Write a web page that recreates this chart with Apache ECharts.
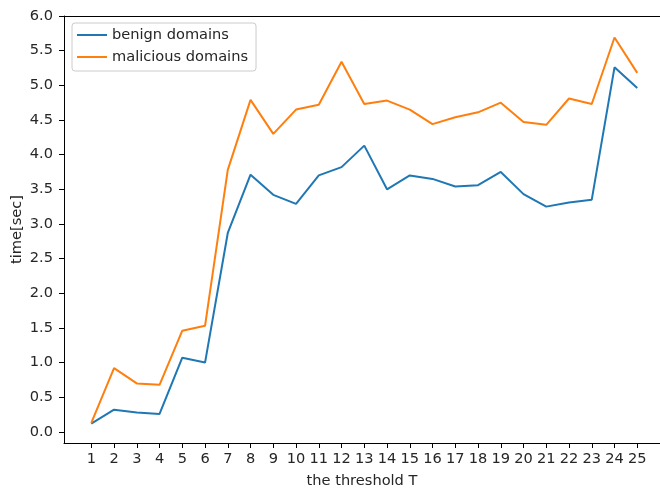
<!DOCTYPE html>
<html>
<head>
<meta charset="utf-8">
<script src="https://cdn.jsdelivr.net/npm/echarts@6/dist/echarts.min.js"></script>
<style>
  html, body { margin: 0; padding: 0; background: #fff; }
  #chart { width: 660px; height: 488px; }
</style>
</head>
<body>
<div id="chart"></div>
<script>
// Threshold values T on the x axis
const thresholds = [1, 2, 3, 4, 5, 6, 7, 8, 9, 10, 11, 12, 13, 14, 15, 16, 17, 18, 19, 20, 21, 22, 23, 24, 25];

// Processing time in seconds per threshold
const benignTimes = [0.12, 0.32, 0.28, 0.26, 1.07, 1.00, 2.87, 3.71, 3.42, 3.29, 3.70, 3.82, 4.13, 3.50, 3.70, 3.65, 3.54, 3.56, 3.75, 3.43, 3.25, 3.31, 3.35, 5.26, 4.96];
const maliciousTimes = [0.13, 0.92, 0.70, 0.68, 1.46, 1.53, 3.78, 4.79, 4.30, 4.65, 4.72, 5.34, 4.73, 4.78, 4.65, 4.44, 4.54, 4.61, 4.75, 4.47, 4.43, 4.81, 4.73, 5.69, 5.18];

// Tick labels on the y axis
const yTicks = [0.0, 0.5, 1.0, 1.5, 2.0, 2.5, 3.0, 3.5, 4.0, 4.5, 5.0, 5.5, 6.0];

const FONT = 'DejaVu Sans';
const FS = 14.6;
const TEXT = '#262626';

const toPairs = (xs, ys) => xs.map((x, i) => [x, ys[i]]);

const chart = echarts.init(document.getElementById('chart'), null, { renderer: 'canvas' });

chart.setOption({
  animation: false,
  backgroundColor: '#ffffff',
  textStyle: { fontFamily: FONT },
  grid: { left: 64, top: 16, right: 0, bottom: 45, containLabel: false, outerBoundsMode: 'none' },
  legend: {
    orient: 'vertical',
    left: 72,
    top: 23,
    backgroundColor: '#ffffff',
    borderColor: '#cccccc',
    borderWidth: 1,
    borderRadius: 3,
    padding: [4, 8, 6, 5],
    itemGap: 6,
    itemWidth: 30,
    itemHeight: 2,
    icon: 'rect',
    itemTextGap: 11,
    textStyle: { fontFamily: FONT, fontSize: FS, color: TEXT, lineHeight: 16 },
    data: ['benign domains', 'malicious domains']
  },
  xAxis: [
    {
      type: 'value',
      min: -0.2,
      max: 26.0,
      name: 'the threshold T',
      nameLocation: 'middle',
      nameGap: 31,
      nameMoveOverlap: false,
      nameTextStyle: { fontFamily: FONT, fontSize: FS, color: TEXT },
      splitLine: { show: false },
      axisLine: { show: true, onZero: false, lineStyle: { color: '#000', width: 1 } },
      axisTick: { show: true, length: 5, lineStyle: { color: '#000' }, customValues: thresholds },
      axisLabel: { fontFamily: FONT, fontSize: FS, color: TEXT, margin: 9, customValues: thresholds }
    },
    {
      // top frame line
      type: 'value',
      position: 'top',
      min: -0.2,
      max: 26.0,
      splitLine: { show: false },
      axisLine: { show: true, onZero: false, lineStyle: { color: '#000', width: 1 } },
      axisTick: { show: false },
      axisLabel: { show: false }
    }
  ],
  yAxis: {
    type: 'value',
    min: -0.16,
    max: 6.0,
    name: 'time[sec]',
    nameLocation: 'middle',
    nameGap: 39,
    nameMoveOverlap: false,
    nameTextStyle: { fontFamily: FONT, fontSize: FS, color: TEXT },
    splitLine: { show: false },
    axisLine: { show: true, onZero: false, lineStyle: { color: '#000', width: 1 } },
    axisTick: { show: true, length: 5, lineStyle: { color: '#000' }, customValues: yTicks },
    axisLabel: {
      fontFamily: FONT, fontSize: FS, color: TEXT, margin: 11,
      customValues: yTicks,
      formatter: v => v.toFixed(1)
    }
  },
  series: [
    {
      name: 'benign domains',
      type: 'line',
      xAxisIndex: 0,
      data: toPairs(thresholds, benignTimes),
      showSymbol: false,
      symbol: 'none',
      color: '#1f77b4',
      lineStyle: { color: '#1f77b4', width: 2 }
    },
    {
      name: 'malicious domains',
      type: 'line',
      xAxisIndex: 0,
      data: toPairs(thresholds, maliciousTimes),
      showSymbol: false,
      symbol: 'none',
      color: '#ff7f0e',
      lineStyle: { color: '#ff7f0e', width: 2 }
    }
  ]
});
</script>
</body>
</html>
